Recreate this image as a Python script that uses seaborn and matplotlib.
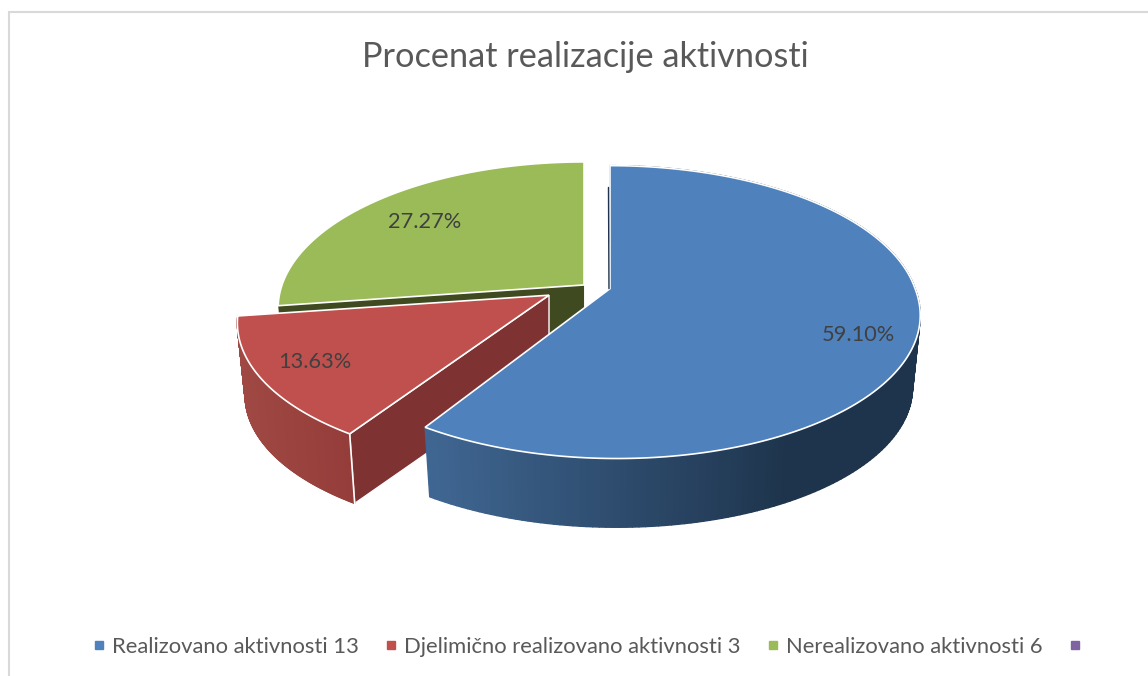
import numpy as np
import seaborn as sns
from matplotlib import pyplot as plt
from matplotlib.collections import PolyCollection
from matplotlib.colors import to_rgb
from matplotlib.lines import Line2D

categories = ["Realizovano aktivnosti 13", "Djelimično realizovano aktivnosti 3", "Nerealizovano aktivnosti 6", ""]
percents = [59.10, 13.63, 27.27]
percent_labels = ["59.10%", "13.63%", "27.27%"]

# layout, all in pixels of the 1148x676 picture
explode = [0.034, 0.198, 0.069]
lean = [-7, 9.5, 0]
width = [0.997, 1, 0.987]
label_pos = [(858, 335), (315, 362), (425, 222)]
CX, CY = 600, 288
RX, RY = 306, 142.7
PERSP = 0.16
EXPLODE_TILT = 0.22
DEPTH = 73
BASE_SCALE = 0.975

palette = ["#4f81bd", "#c0504d", "#9bbb59", "#8064a2"]
side_cols = [("#3f6692", "#1e344c", 430, 790), ("#a04843", "#933c39", 240, 356)]
cut_cols = {1: "#7e3231", 2: "#3f4a20"}
TEXT = "#595959"

sns.set_theme(style="white", palette=palette)
plt.rcParams["font.family"] = ["Lato", "DejaVu Sans"]


def project(r, theta, i):
    apex = wedges[i][0]
    u = r * np.sin(theta)
    v = r * np.cos(theta)
    w = 1 + PERSP * v
    # lean only bends the front half of the rim
    return apex[0] + width[i] * RX * u / w + lean[i] * np.minimum(v, 0), apex[1] - RY * v / w


def lower(x, y, i):
    apex = wedges[i][0]
    return apex[0] + BASE_SCALE * (x - apex[0]), apex[1] + DEPTH + BASE_SCALE * (y - apex[1])


def blend(c0, c1, t):
    return tuple((1 - t) * np.array(to_rgb(c0)) + t * np.array(to_rgb(c1)))


fig = plt.figure(figsize=(11.48, 6.76), dpi=100)
ax = fig.add_axes([0, 0, 1, 1])
ax.set_xlim(0, 1148)
ax.set_ylim(676, 0)
ax.axis("off")

# chart frame, only left and top edges are inside the picture
ax.plot([8.5, 8.5, 1148], [676, 12, 12], color="#d9d9d9", lw=1.5, solid_joinstyle="miter")

bounds = np.deg2rad(np.cumsum([0] + percents) * 360 / sum(percents))
wedges = []
for i in range(3):
    mid = (bounds[i] + bounds[i + 1]) / 2
    apex = (CX + explode[i] * RX * np.sin(mid), CY - explode[i] * RX * EXPLODE_TILT * np.cos(mid))
    thetas = np.linspace(bounds[i], bounds[i + 1], 200)
    wedges.append((apex, thetas))


def draw_cut(i, theta):
    apex = wedges[i][0]
    x, y = project(1, theta, i)
    bx, by = lower(x, y, i)
    ax.fill([apex[0], x, bx, apex[0]], [apex[1], y, by, apex[1] + DEPTH], facecolor=cut_cols[i],
            edgecolor="white" if i == 1 else "none", lw=1)


def draw_side(i):
    thetas = wedges[i][1]
    x, y = project(1, thetas, i)
    bx, by = lower(x, y, i)
    c0, c1, x0, x1 = side_cols[i]
    quads = []
    cols = []
    for k in range(len(thetas) - 1):
        quads.append([(x[k], y[k]), (x[k + 1], y[k + 1]), (bx[k + 1], by[k + 1]), (bx[k], by[k])])
        cols.append(blend(c0, c1, np.clip(((x[k] + x[k + 1]) / 2 - x0) / (x1 - x0), 0, 1)))
    ax.add_collection(PolyCollection(quads, facecolors=cols, edgecolors=cols, linewidths=1.0))


def draw_top(i):
    apex, thetas = wedges[i]
    x, y = project(1, thetas, i)
    ax.fill(np.r_[apex[0], x], np.r_[apex[1], y], facecolor=palette[i], edgecolor="white", lw=1.2,
            joinstyle="miter")


# back to front
draw_cut(2, bounds[2])
draw_top(2)
draw_cut(1, bounds[1])
draw_side(1)
draw_top(1)
# white corner of the red slice
rx, ry = project(1, bounds[1], 1)
rbx, rby = lower(rx, ry, 1)
ax.plot([rx, rbx], [ry, rby], color="white", lw=1.2)
draw_side(0)
draw_top(0)
# dark sliver of the blue slice's back wall
bx0, by0 = project(0.8, bounds[0], 0)
ax.plot([bx0 - 1.5, wedges[0][0][0] - 1], [by0, wedges[0][0][1]], color="#1e344c", lw=1)

for text, pos in zip(percent_labels, label_pos):
    ax.text(pos[0], pos[1], text, ha="center", va="center", fontsize=15.7, color="#404040")

ax.text(585, 57, "Procenat realizacije aktivnosti", ha="center", va="center", fontsize=24.7, color=TEXT)

handles = [Line2D([], [], ls="none", marker="s", ms=5.8, color=c) for c in palette]
ax.legend(handles, categories, ncol=4, loc="center left", bbox_to_anchor=(92, 647),
          bbox_transform=ax.transData, frameon=False, fontsize=15.8, labelcolor=TEXT,
          handlelength=0.6, handletextpad=0.3, columnspacing=1.17, borderpad=0, borderaxespad=0)

fig.savefig("out.png", dpi=100)
